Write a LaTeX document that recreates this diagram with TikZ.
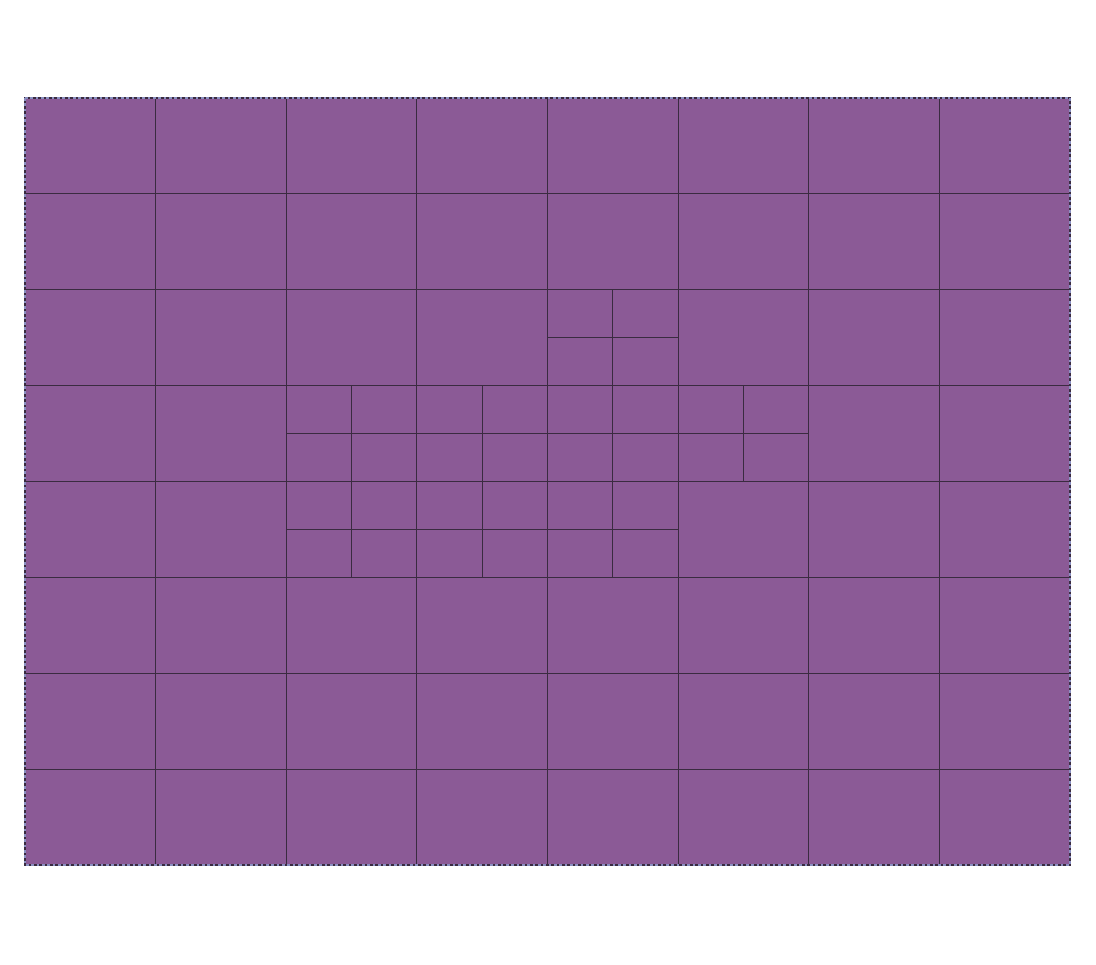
\documentclass[tikz,border=0pt]{standalone}
\begin{document}
\begin{tikzpicture}[x=0.75pt,y=-0.75pt,
  cellfill/.style={fill=cellc,draw=none},
  gridline/.style={draw=linec,line width=0.8pt}]
\definecolor{cellc}{HTML}{8B5A96}
\definecolor{linec}{HTML}{3A2B40}
\definecolor{borderc}{HTML}{8A8FC0}
\useasboundingbox (0,0) rectangle (1096,964);
\def\xa{25}\def\ya{98}\def\cw{130.625}\def\ch{95.875}
\fill[cellc] (\xa,\ya) rectangle (1070,865);
% coarse grid
\foreach \i in {1,...,7} {
  \draw[gridline] ({\xa+\i*\cw},\ya) -- ({\xa+\i*\cw},865);
  \draw[gridline] (\xa,{\ya+\i*\ch}) -- (1070,{\ya+\i*\ch});
}
% refined cells: (column,row)
\foreach \c/\r in {4/2, 2/3,3/3,4/3,5/3, 2/4,3/4,4/4} {
  \draw[gridline] ({\xa+(\c+0.5)*\cw},{\ya+\r*\ch}) -- ({\xa+(\c+0.5)*\cw},{\ya+(\r+1)*\ch});
  \draw[gridline] ({\xa+\c*\cw},{\ya+(\r+0.5)*\ch}) -- ({\xa+(\c+1)*\cw},{\ya+(\r+0.5)*\ch});
}
% outer border
\draw[gridline] (\xa,\ya) rectangle (1070,865);
\draw[borderc,line width=0.8pt,dash pattern=on 2pt off 2pt] (\xa,\ya) rectangle (1070,865);
\end{tikzpicture}
\end{document}
